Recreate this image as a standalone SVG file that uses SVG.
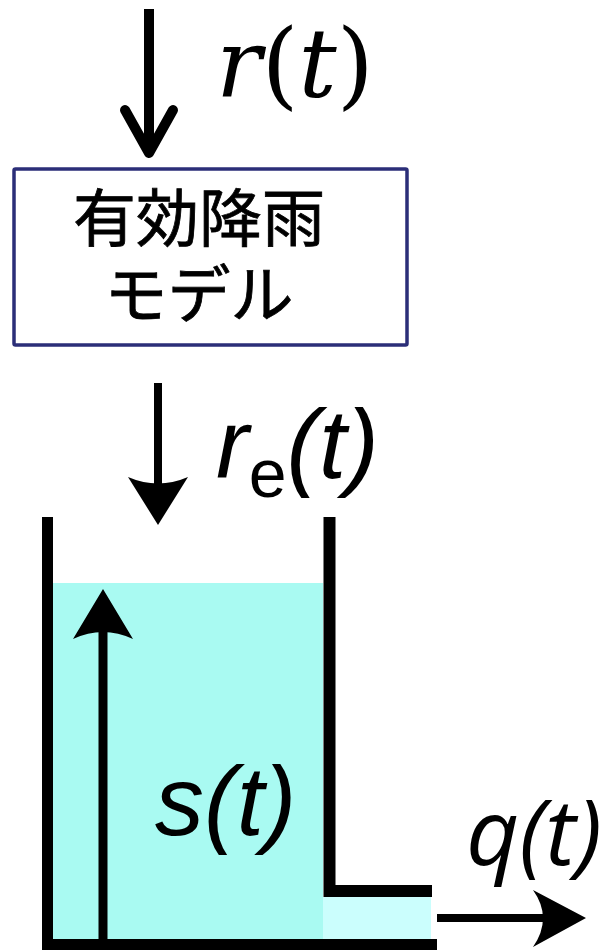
<svg xmlns="http://www.w3.org/2000/svg" width="608" height="951" viewBox="0 0 608 951">
<style>
.blk{stroke:#000;fill:none}
.lbl{font-family:"Liberation Sans",Arial,sans-serif;font-style:italic;fill:#000}
.jp{font-family:"Noto Sans CJK JP","Noto Sans",sans-serif;font-size:63px;fill:#000;stroke:#000;stroke-width:0.8;text-anchor:middle}
</style>
<rect x="0" y="0" width="608" height="951" fill="#fff"/>
<g id="tank">
<rect x="53" y="583" width="270" height="356" fill="#A9FAF2"/>
<rect x="323" y="897" width="108" height="42" fill="#CBFEFD"/>
<path class="blk" d="M47.5 517 V944.5 H437" stroke-width="11"/>
<path class="blk" d="M329.5 517 V891 H432" stroke-width="12"/>
</g>
<g id="model">
<rect x="14" y="169" width="393" height="176" fill="#fff" stroke="#2B2E78" stroke-width="3.5" rx="1.5"/>
<text class="jp" x="199" y="241">有効降雨<tspan x="199" dy="76">モデル</tspan></text>
</g>
<g id="connectors">
<path class="blk" d="M149 9 V152" stroke-width="10"/>
<path class="blk" d="M125 110 L149 153 L173 110" stroke-width="10" stroke-linecap="round" stroke-linejoin="round"/>
<path class="blk" d="M158 383 V495" stroke-width="8"/>
<path d="M128 477 L158 525 L188 477 Q158 490 128 477 Z" fill="#000"/>
<path class="blk" d="M103 939 V625" stroke-width="9"/>
<path d="M103 589 L133 639 Q103 625 73 639 Z" fill="#000"/>
<path class="blk" d="M437 918 H560" stroke-width="8"/>
<path d="M586 918 L533 890 Q553 918 533 947 Z" fill="#000"/>
</g>
<g id="labels">
<text x="216" y="97" font-family="DejaVu Serif,serif" font-size="95"><tspan font-style="italic">r</tspan>(<tspan font-style="italic">t</tspan>)</text>
<text class="lbl" x="216" y="478" font-size="98">r<tspan font-size="68" font-style="normal" dy="19">e</tspan><tspan dy="-19">(t)</tspan></text>
<text class="lbl" x="155" y="835" font-size="98">s(t)</text>
<text x="466" y="865" font-family="Open Sans,sans-serif" font-style="italic" font-size="92">q(t)</text>
</g>
</svg>
